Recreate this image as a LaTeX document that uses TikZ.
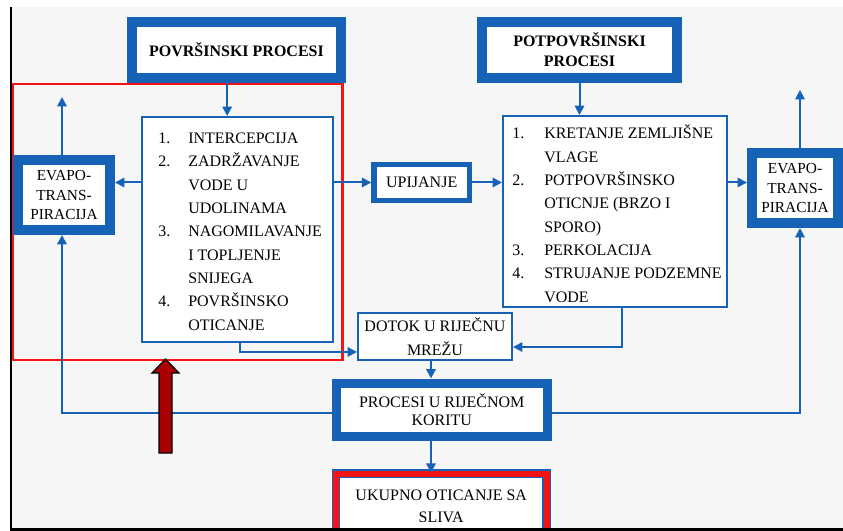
\documentclass[tikz,border=0pt]{standalone}
\usepackage{fontspec}
\setmainfont{Liberation Serif}
\usepackage{xcolor}
\usetikzlibrary{arrows.meta}

\definecolor{plava}{RGB}{22,98,182}
\definecolor{crvena}{RGB}{245,20,20}
\definecolor{tamnocrvena}{RGB}{170,0,0}
\definecolor{pozadina}{RGB}{246,246,246}

\tikzset{
  debeli/.style={draw=plava, fill=white, line width=7.5pt, inner sep=0pt, align=center, font=\fontsize{12}{15}\selectfont},
  tanki/.style={draw=plava, fill=white, line width=1.5pt, inner sep=0pt, align=center, font=\fontsize{12}{18}\selectfont},
  strelica/.style={draw=plava, line width=1.5pt, -{Triangle[length=7pt,width=7pt]}},
}

\begin{document}
\begin{tikzpicture}[x=0.75pt,y=0.75pt,yscale=-1,xscale=1]
\useasboundingbox (0,0) rectangle (843,531);
\clip (0,0) rectangle (843,531);

%Shape: Background
\fill[pozadina] (12,7) rectangle (843,531);

%Shape: Rectangle (okvir povrsinskih procesa)
\draw[crvena, line width=1.9pt] (13,84) rectangle (342.5,360);

%Shape: Boxes
\node[debeli, minimum width=156.75pt, minimum height=42pt] (povrsinski) at (236.5,50) {\textbf{POVRŠINSKI PROCESI}};
\node[debeli, minimum width=146.25pt, minimum height=42pt] (potpovrsinski) at (579.5,50) {\textbf{POTPOVRŠINSKI}\\\textbf{PROCESI}};
\node[tanki, minimum width=143.25pt, minimum height=168.75pt] (lista1) at (237.5,229.5) {};
\node[tanki, minimum width=168pt, minimum height=143.25pt] (lista2) at (615,211.5) {};
\node[debeli, minimum width=69pt, minimum height=52.5pt, font=\fontsize{11.5}{14.6}\selectfont] (evapL) at (64,195) {EVAPO-\\TRANS-\\PIRACIJA};
\node[debeli, minimum width=64.5pt, minimum height=52.5pt, font=\fontsize{11.5}{14.6}\selectfont] (evapR) at (795,188) {EVAPO-\\TRANS-\\PIRACIJA};
\node[debeli, line width=4.1pt, minimum width=71.6pt, minimum height=27pt] (upijanje) at (421.75,182.5) {UPIJANJE};
\node[tanki, minimum width=115.5pt, minimum height=35.25pt] (dotok) at (435,336.5) {DOTOK U RIJEČNU\\MREŽU};
\node[debeli, line width=6.75pt, minimum width=157.9pt, minimum height=39.75pt, font=\fontsize{12}{13.5}\selectfont] (korito) at (441.75,409.5) {PROCESI U RIJEČNOM\\KORITU};
\node[debeli, draw=plava, double=crvena, double distance=4.5pt, line width=1.1pt, minimum width=157.9pt, minimum height=49.5pt, font=\fontsize{12}{16.5}\selectfont] (ukupno) at (441.25,506.5) {UKUPNO OTICANJE SA\\SLIVA};

% Text Node
\node[anchor=base west, inner sep=0pt, font=\fontsize{12}{17.5}\selectfont] (tekst1) at (158,143.5) {\begin{tabular}[t]{@{}p{22.5pt}@{}l@{}}
1. & INTERCEPCIJA\\
2. & ZADRŽAVANJE\\
   & VODE U\\
   & UDOLINAMA\\
3. & NAGOMILAVANJE\\
   & I TOPLJENJE\\
   & SNIJEGA\\
4. & POVRŠINSKO\\
   & OTICANJE
\end{tabular}};
% Text Node
\node[anchor=base west, inner sep=0pt, font=\fontsize{12}{17.5}\selectfont] (tekst2) at (512,139) {\begin{tabular}[t]{@{}p{24pt}@{}l@{}}
1. & KRETANJE ZEMLJIŠNE\\
   & VLAGE\\
2. & POTPOVRŠINSKO\\
   & OTICNJE (BRZO I\\
   & SPORO)\\
3. & PERKOLACIJA\\
4. & STRUJANJE PODZEMNE\\
   & VODE
\end{tabular}};

\coordinate (evapLgore) at (62,97);
\coordinate (evapRgore) at (800,90);

%Straight Lines
\draw[strelica] ([xshift=-7pt]povrsinski.south) -- ([xshift=-7pt]povrsinski.south |- lista1.north);
\draw[strelica] (potpovrsinski.south) -- (potpovrsinski.south |- lista2.north);
\draw[strelica] (lista1.west |- upijanje.west) -- (evapL.east |- upijanje.west);
\draw[strelica] (lista1.east |- upijanje.west) -- (upijanje.west);
\draw[strelica] (upijanje.east) -- (upijanje.east -| lista2.west);
\draw[strelica] (lista2.east |- upijanje.east) -- (evapR.west |- upijanje.east);
\draw[strelica] (evapL.north -| evapLgore) -- (evapLgore);
\draw[strelica] (evapR.north -| evapRgore) -- (evapRgore);
\draw[strelica] ([xshift=2pt]lista1.south) |- ([yshift=11.6pt]dotok.west);
\draw[strelica] ([xshift=5.25pt]lista2.south) |- ([yshift=7.9pt]dotok.east);
\draw[strelica] ([xshift=-3pt]dotok.south) -- ([xshift=-3pt]dotok.south |- korito.north);
\draw[strelica] ([yshift=2.6pt]korito.west) -| (evapL.south -| evapLgore);
\draw[strelica] ([yshift=2.6pt]korito.east) -| (evapR.south -| evapRgore);
\draw[strelica] ([xshift=-3pt]dotok.south |- korito.south) -- ([xshift=-3pt]dotok.south |- ukupno.north);

%Shape: Block arrow
\draw[fill=tamnocrvena, line width=0.9pt, line join=miter] (159,453) -- (159,373) -- (152,373) -- (165.5,359) -- (179,373) -- (172,373) -- (172,453) -- cycle;

%Shape: Frame lines
\draw[line width=1.5pt] (11,7) -- (11,531);
\draw[line width=2.25pt] (11,529.5) -- (843,529.5);

\end{tikzpicture}
\end{document}
